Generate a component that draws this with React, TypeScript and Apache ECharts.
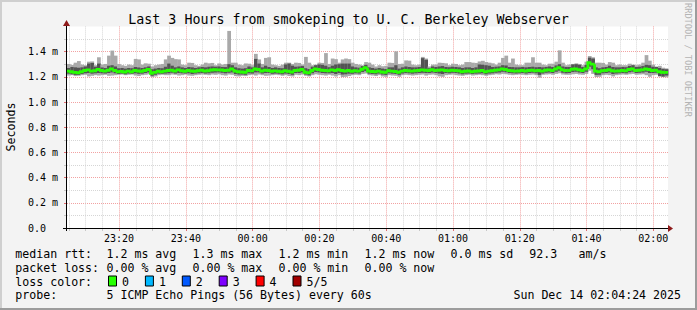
import React, { useEffect, useRef } from 'react';
import * as echarts from 'echarts';

// time in minutes after 23:00; first step starts 23:04:24, one step = 60 s
const firstMinute = 4.4;
const stepMinutes = 1;

// median round-trip time per step (ms)
const medianRtt = [
  1.245, 1.240, 1.235, 1.232, 1.240, 1.250, 1.255, 1.245, 1.248, 1.258,
  1.250, 1.245, 1.252, 1.262, 1.250, 1.240, 1.242, 1.238, 1.245, 1.240,
  1.250, 1.246, 1.244, 1.250, 1.258, 1.228, 1.235, 1.244, 1.240, 1.245,
  1.250, 1.252, 1.246, 1.255, 1.248, 1.244, 1.250, 1.246, 1.244, 1.248,
  1.252, 1.246, 1.248, 1.254, 1.256, 1.255, 1.254, 1.250, 1.252, 1.262,
  1.245, 1.240, 1.238, 1.236, 1.250, 1.248, 1.262, 1.258, 1.245, 1.252,
  1.250, 1.244, 1.247, 1.244, 1.240, 1.248, 1.244, 1.238, 1.250, 1.252,
  1.258, 1.236, 1.232, 1.250, 1.262, 1.258, 1.252, 1.250, 1.248, 1.255,
  1.250, 1.256, 1.250, 1.246, 1.250, 1.244, 1.248, 1.245, 1.260, 1.272,
  1.245, 1.242, 1.240, 1.245, 1.238, 1.236, 1.248, 1.245, 1.242, 1.236,
  1.245, 1.250, 1.248, 1.245, 1.248, 1.250, 1.255, 1.252, 1.250, 1.256,
  1.250, 1.252, 1.255, 1.250, 1.248, 1.252, 1.250, 1.248, 1.240, 1.244,
  1.246, 1.240, 1.244, 1.246, 1.250, 1.240, 1.245, 1.248, 1.252, 1.255,
  1.262, 1.258, 1.250, 1.248, 1.245, 1.246, 1.250, 1.246, 1.250, 1.252,
  1.248, 1.250, 1.245, 1.252, 1.255, 1.250, 1.262, 1.272, 1.255, 1.250,
  1.250, 1.260, 1.262, 1.256, 1.250, 1.262, 1.312, 1.300, 1.245, 1.240,
  1.248, 1.250, 1.256, 1.248, 1.245, 1.246, 1.250, 1.248, 1.258, 1.262,
  1.250, 1.252, 1.255, 1.262, 1.258, 1.250, 1.252, 1.240, 1.236, 1.235,
];

// highest ping of the 5 (ms)
const outerHi = [
  1.302, 1.294, 1.312, 1.325, 1.297, 1.292, 1.320, 1.322, 1.292, 1.355,
  1.297, 1.302, 1.368, 1.408, 1.368, 1.302, 1.292, 1.287, 1.297, 1.292,
  1.342, 1.338, 1.297, 1.307, 1.304, 1.282, 1.292, 1.297, 1.302, 1.338,
  1.368, 1.350, 1.340, 1.338, 1.297, 1.292, 1.312, 1.310, 1.292, 1.287,
  1.297, 1.312, 1.307, 1.310, 1.292, 1.306, 1.297, 1.302, 1.564, 1.312,
  1.312, 1.297, 1.292, 1.306, 1.304, 1.292, 1.382, 1.338, 1.302, 1.350,
  1.355, 1.297, 1.292, 1.287, 1.297, 1.312, 1.312, 1.302, 1.312, 1.310,
  1.297, 1.358, 1.312, 1.292, 1.297, 1.312, 1.310, 1.388, 1.302, 1.345,
  1.340, 1.312, 1.338, 1.345, 1.340, 1.312, 1.302, 1.297, 1.292, 1.317,
  1.312, 1.297, 1.282, 1.292, 1.284, 1.287, 1.312, 1.310, 1.402, 1.302,
  1.304, 1.330, 1.328, 1.297, 1.292, 1.297, 1.358, 1.345, 1.282, 1.297,
  1.297, 1.312, 1.310, 1.307, 1.292, 1.304, 1.302, 1.292, 1.297, 1.317,
  1.317, 1.312, 1.310, 1.322, 1.327, 1.317, 1.312, 1.307, 1.297, 1.312,
  1.350, 1.368, 1.312, 1.345, 1.297, 1.292, 1.292, 1.312, 1.312, 1.355,
  1.312, 1.312, 1.297, 1.292, 1.304, 1.304, 1.320, 1.410, 1.312, 1.292,
  1.297, 1.302, 1.307, 1.302, 1.292, 1.320, 1.365, 1.355, 1.312, 1.312,
  1.310, 1.297, 1.317, 1.312, 1.292, 1.297, 1.292, 1.292, 1.304, 1.297,
  1.292, 1.297, 1.312, 1.372, 1.328, 1.297, 1.282, 1.287, 1.272, 1.267,
];

// lowest ping of the 5 (ms)
const outerLo = [
  1.210, 1.213, 1.206, 1.208, 1.213, 1.216, 1.203, 1.208, 1.213, 1.210,
  1.213, 1.216, 1.208, 1.210, 1.213, 1.216, 1.218, 1.213, 1.216, 1.218,
  1.210, 1.206, 1.213, 1.216, 1.220, 1.198, 1.203, 1.213, 1.216, 1.213,
  1.213, 1.218, 1.216, 1.210, 1.213, 1.218, 1.210, 1.208, 1.213, 1.216,
  1.218, 1.216, 1.213, 1.218, 1.216, 1.220, 1.213, 1.210, 1.218, 1.216,
  1.206, 1.203, 1.208, 1.206, 1.213, 1.216, 1.210, 1.218, 1.213, 1.208,
  1.210, 1.213, 1.216, 1.213, 1.208, 1.213, 1.206, 1.203, 1.216, 1.213,
  1.218, 1.208, 1.203, 1.213, 1.220, 1.216, 1.213, 1.210, 1.216, 1.210,
  1.203, 1.213, 1.198, 1.200, 1.206, 1.213, 1.216, 1.213, 1.223, 1.226,
  1.213, 1.210, 1.206, 1.213, 1.203, 1.200, 1.213, 1.210, 1.208, 1.200,
  1.213, 1.216, 1.213, 1.210, 1.213, 1.216, 1.218, 1.210, 1.216, 1.218,
  1.213, 1.203, 1.200, 1.213, 1.216, 1.218, 1.213, 1.210, 1.208, 1.213,
  1.216, 1.210, 1.213, 1.216, 1.213, 1.208, 1.213, 1.216, 1.220, 1.218,
  1.223, 1.220, 1.216, 1.213, 1.216, 1.218, 1.216, 1.213, 1.216, 1.218,
  1.213, 1.193, 1.216, 1.218, 1.220, 1.216, 1.223, 1.228, 1.218, 1.216,
  1.216, 1.220, 1.223, 1.218, 1.216, 1.223, 1.248, 1.223, 1.198, 1.200,
  1.213, 1.216, 1.213, 1.203, 1.213, 1.216, 1.218, 1.216, 1.220, 1.223,
  1.216, 1.218, 1.220, 1.213, 1.200, 1.213, 1.216, 1.203, 1.198, 1.196,
];

// 4th ping (ms)
const innerHi = [
  1.270, 1.278, 1.275, 1.272, 1.275, 1.282, 1.305, 1.310, 1.280, 1.305,
  1.274, 1.270, 1.288, 1.292, 1.282, 1.268, 1.270, 1.265, 1.270, 1.268,
  1.278, 1.274, 1.270, 1.275, 1.282, 1.260, 1.265, 1.270, 1.268, 1.280,
  1.305, 1.288, 1.275, 1.282, 1.275, 1.270, 1.278, 1.275, 1.270, 1.275,
  1.278, 1.275, 1.280, 1.282, 1.280, 1.282, 1.278, 1.277, 1.300, 1.292,
  1.275, 1.268, 1.265, 1.268, 1.282, 1.275, 1.342, 1.305, 1.275, 1.288,
  1.278, 1.270, 1.275, 1.270, 1.268, 1.298, 1.305, 1.288, 1.280, 1.282,
  1.285, 1.268, 1.262, 1.280, 1.292, 1.298, 1.295, 1.288, 1.276, 1.288,
  1.298, 1.300, 1.305, 1.305, 1.305, 1.282, 1.275, 1.272, 1.285, 1.295,
  1.275, 1.270, 1.265, 1.270, 1.265, 1.262, 1.275, 1.275, 1.292, 1.265,
  1.275, 1.282, 1.278, 1.275, 1.275, 1.278, 1.348, 1.335, 1.268, 1.282,
  1.278, 1.282, 1.285, 1.278, 1.276, 1.280, 1.278, 1.275, 1.270, 1.275,
  1.275, 1.270, 1.275, 1.298, 1.296, 1.292, 1.288, 1.278, 1.280, 1.282,
  1.292, 1.290, 1.278, 1.277, 1.275, 1.275, 1.278, 1.275, 1.278, 1.280,
  1.276, 1.278, 1.275, 1.278, 1.282, 1.278, 1.290, 1.300, 1.282, 1.278,
  1.278, 1.298, 1.300, 1.295, 1.278, 1.295, 1.352, 1.345, 1.275, 1.268,
  1.275, 1.278, 1.288, 1.278, 1.275, 1.275, 1.278, 1.276, 1.286, 1.292,
  1.278, 1.280, 1.285, 1.295, 1.292, 1.280, 1.278, 1.270, 1.262, 1.260,
];

// 2nd ping (ms)
const innerLo = [
  1.225, 1.220, 1.215, 1.215, 1.222, 1.228, 1.230, 1.225, 1.228, 1.230,
  1.228, 1.226, 1.230, 1.235, 1.228, 1.222, 1.225, 1.220, 1.226, 1.224,
  1.228, 1.224, 1.225, 1.230, 1.235, 1.208, 1.216, 1.225, 1.224, 1.226,
  1.228, 1.232, 1.226, 1.230, 1.228, 1.226, 1.228, 1.222, 1.226, 1.228,
  1.230, 1.226, 1.228, 1.232, 1.234, 1.235, 1.232, 1.228, 1.232, 1.235,
  1.222, 1.218, 1.218, 1.216, 1.228, 1.226, 1.235, 1.235, 1.226, 1.230,
  1.230, 1.224, 1.226, 1.224, 1.220, 1.226, 1.222, 1.216, 1.230, 1.230,
  1.235, 1.218, 1.212, 1.228, 1.238, 1.235, 1.230, 1.228, 1.228, 1.230,
  1.222, 1.230, 1.218, 1.220, 1.225, 1.224, 1.228, 1.226, 1.238, 1.245,
  1.225, 1.222, 1.220, 1.226, 1.218, 1.215, 1.228, 1.225, 1.222, 1.216,
  1.226, 1.230, 1.228, 1.225, 1.228, 1.230, 1.232, 1.230, 1.230, 1.234,
  1.230, 1.226, 1.222, 1.230, 1.228, 1.232, 1.230, 1.226, 1.220, 1.225,
  1.226, 1.222, 1.225, 1.226, 1.228, 1.220, 1.226, 1.228, 1.232, 1.234,
  1.240, 1.236, 1.230, 1.228, 1.226, 1.228, 1.230, 1.226, 1.230, 1.232,
  1.228, 1.215, 1.226, 1.232, 1.234, 1.230, 1.240, 1.248, 1.232, 1.228,
  1.230, 1.238, 1.240, 1.234, 1.230, 1.240, 1.280, 1.260, 1.215, 1.216,
  1.228, 1.230, 1.234, 1.222, 1.226, 1.228, 1.230, 1.228, 1.236, 1.240,
  1.230, 1.232, 1.234, 1.240, 1.230, 1.230, 1.232, 1.205, 1.202, 1.210,
];

const yMajorValues = [0, 0.2, 0.4, 0.6, 0.8, 1.0, 1.2, 1.4];
const yMinorValues = [0.1, 0.3, 0.5, 0.7, 0.9, 1.1, 1.3, 1.5];
const xMajorValues = [20, 40, 60, 80, 100, 120, 140, 160, 180];
const xTickLabels = ['23:20', '23:40', '00:00', '00:20', '00:40', '01:00', '01:20', '01:40', '02:00'];
const xMinorValues = [5, 10, 15, 25, 30, 35, 45, 50, 55, 65, 70, 75, 85, 90, 95, 105, 110, 115, 125, 130, 135, 145, 150, 155, 165, 170, 175];

const titleText = 'Last 3 Hours from smokeping to U. C. Berkeley Webserver';
const rttStats = ['1.2 ms avg', '1.3 ms max', '1.2 ms min', '1.2 ms now', '0.0 ms sd'];
const rttExtra = ['92.3', 'am/s'];
const lossStats = ['0.00 % avg', '0.00 % max', '0.00 % min', '0.00 % now'];
const lossLabels = ['0', '1', '2', '3', '4', '5/5'];
const lossColors = ['#26ff00', '#00b8ff', '#0059ff', '#7e00ff', '#ff0000', '#a10000'];
const probeText = '5 ICMP Echo Pings (56 Bytes) every 60s';
const dateText = 'Sun Dec 14 02:04:24 2025';

const MONO = "'DejaVu Sans Mono', monospace";

function txt(x: number, y: number, text: string, size: number, extra: any = {}) {
  const align = extra.align || 'left';
  return {
    type: 'text',
    x,
    y,
    rotation: extra.rotation || 0,
    z: 100,
    silent: true,
    style: {
      text,
      fill: extra.fill || '#000000',
      fontFamily: MONO,
      fontSize: size,
      align,
      textAlign: align,
      verticalAlign: 'middle',
      textVerticalAlign: 'middle',
    },
  };
}

export default function App() {
  const ref = useRef<HTMLDivElement>(null);

  useEffect(() => {
    document.body.style.margin = '0';
    if (!ref.current) return;
    const chart = echarts.init(ref.current, null, { renderer: 'svg' });

    const smokeData = medianRtt.map((_, i) => [
      firstMinute + i * stepMinutes,
      firstMinute + (i + 1) * stepMinutes,
      outerLo[i],
      outerHi[i],
      innerLo[i],
      innerHi[i],
    ]);
    const medianData = medianRtt.map((m, i) => [
      firstMinute + i * stepMinutes,
      firstMinute + (i + 1) * stepMinutes,
      m,
      i > 0 ? medianRtt[i - 1] : m,
    ]);

    const graphic: any[] = [];
    // 3D frame
    graphic.push({ type: 'rect', z: 90, silent: true, shape: { x: 0, y: 0, width: 697, height: 2 }, style: { fill: '#cfcfcf' } });
    graphic.push({ type: 'rect', z: 90, silent: true, shape: { x: 0, y: 0, width: 2, height: 310 }, style: { fill: '#cfcfcf' } });
    graphic.push({ type: 'rect', z: 91, silent: true, shape: { x: 0, y: 308, width: 697, height: 2 }, style: { fill: '#9c9c9c' } });
    graphic.push({ type: 'rect', z: 91, silent: true, shape: { x: 695, y: 0, width: 2, height: 310 }, style: { fill: '#9c9c9c' } });
    // axes lines and arrows
    graphic.push({ type: 'line', z: 95, silent: true, shape: { x1: 63, y1: 228.5, x2: 671, y2: 228.5 }, style: { stroke: '#000000', lineWidth: 1 } });
    graphic.push({ type: 'line', z: 95, silent: true, shape: { x1: 66.5, y1: 231, x2: 66.5, y2: 22 }, style: { stroke: '#000000', lineWidth: 1 } });
    graphic.push({ type: 'polygon', z: 96, silent: true, shape: { points: [[668, 225], [673, 228.5], [668, 232]] }, style: { fill: '#8e1a1a' } });
    graphic.push({ type: 'polygon', z: 96, silent: true, shape: { points: [[63, 26], [66.5, 20], [70, 26]] }, style: { fill: '#8e1a1a' } });

    // title, axis name, watermark
    graphic.push(txt(348.5, 19.4, titleText, 13.3, { align: 'center' }));
    graphic.push(txt(11, 127, 'Seconds', 11.6, { align: 'center', rotation: Math.PI / 2 }));
    graphic.push(txt(687.5, 60, 'RRDTOOL / TOBI OETIKER', 8.6, { align: 'center', rotation: -Math.PI / 2, fill: '#b4b4b4' }));

    // legend
    const rowY = [254.3, 267.9, 281.6, 295.2];
    const colX = [106.5, 192.5, 278.5, 364.5, 450.5];
    graphic.push(txt(15.3, rowY[0], 'median rtt:', 11.6));
    rttStats.forEach((s, k) => graphic.push(txt(colX[k], rowY[0], s, 11.6)));
    graphic.push(txt(529.3, rowY[0], rttExtra[0], 11.6));
    graphic.push(txt(578.5, rowY[0], rttExtra[1], 11.6));
    graphic.push(txt(15.3, rowY[1], 'packet loss:', 11.6));
    lossStats.forEach((s, k) => graphic.push(txt(colX[k], rowY[1], s, 11.6)));
    graphic.push(txt(15.3, rowY[2], 'loss color:', 11.6));
    lossLabels.forEach((s, k) => {
      const bx = 108.5 + k * 36.9;
      graphic.push({
        type: 'rect', z: 100, silent: true,
        shape: { x: bx, y: 276, width: 8, height: 10 },
        style: { fill: lossColors[k], stroke: '#000000', lineWidth: 1 },
      });
      graphic.push(txt(bx + 13.5, rowY[2], s, 11.6));
    });
    graphic.push(txt(15.3, rowY[3], 'probe:', 11.6));
    graphic.push(txt(106.5, rowY[3], probeText, 11.6));
    graphic.push(txt(681, rowY[3], dateText, 11.6, { align: 'right' }));

    const option: any = {
      animation: false,
      backgroundColor: '#f3f3f3',
      grid: {
        left: 67, top: 26.4, width: 601, height: 201.6,
        show: true, backgroundColor: '#ffffff', borderWidth: 0,
      },
      xAxis: [
        {
          type: 'value', min: 4.4, max: 184.4, position: 'bottom',
          axisLine: { show: false },
          axisTick: { show: true, customValues: xMajorValues, length: 3, lineStyle: { color: '#e07070', width: 1 } },
          axisLabel: {
            show: true, customValues: xMajorValues, margin: 5, color: '#000000',
            fontFamily: MONO, fontSize: 10,
            formatter: (v: number) => xTickLabels[xMajorValues.indexOf(Math.round(v))] || '',
          },
          splitLine: { show: true, lineStyle: { color: '#f2a2a2', type: [1, 1], width: 1 } },
        },
        {
          type: 'value', min: 4.4, max: 184.4, position: 'bottom',
          axisLine: { show: false },
          axisTick: { show: true, customValues: xMinorValues, length: 3, lineStyle: { color: '#c8c8c8', width: 1 } },
          axisLabel: { show: false },
          splitLine: { show: true, lineStyle: { color: '#d6d6d6', type: [1, 1], width: 1 } },
        },
      ],
      yAxis: [
        {
          type: 'value', min: 0, max: 1.6, position: 'left',
          axisLine: { show: false },
          axisTick: { show: true, customValues: yMajorValues, length: 3, lineStyle: { color: '#e07070', width: 1 } },
          axisLabel: {
            show: true, customValues: yMajorValues, margin: 9, color: '#000000',
            fontFamily: MONO, fontSize: 10,
            formatter: (v: number) => (Math.abs(v) < 1e-9 ? '0.0\u00a0\u00a0' : v.toFixed(1) + ' m'),
          },
          splitLine: { show: true, lineStyle: { color: '#f2a2a2', type: [1, 1], width: 1 } },
        },
        {
          type: 'value', min: 0, max: 1.6, position: 'left',
          axisLine: { show: false },
          axisTick: { show: true, customValues: yMinorValues, length: 3, lineStyle: { color: '#c8c8c8', width: 1 } },
          axisLabel: { show: false },
          splitLine: { show: true, lineStyle: { color: '#d6d6d6', type: [1, 1], width: 1 } },
        },
      ],
      series: [
        {
          type: 'custom',
          name: 'smoke',
          xAxisIndex: 0,
          yAxisIndex: 0,
          z: 5,
          silent: true,
          data: smokeData,
          encode: { x: [0, 1], y: [2, 3, 4, 5] },
          renderItem: (_params: any, api: any) => {
            const t0 = api.value(0);
            const t1 = api.value(1);
            const oL = api.coord([t0, api.value(2)]);
            const oH = api.coord([t1, api.value(3)]);
            const iL = api.coord([t0, api.value(4)]);
            const iH = api.coord([t1, api.value(5)]);
            return {
              type: 'group',
              children: [
                {
                  type: 'rect',
                  shape: { x: oL[0], y: oH[1], width: oH[0] - oL[0] + 0.4, height: oL[1] - oH[1] },
                  style: { fill: '#a9a9a9' },
                },
                {
                  type: 'rect',
                  shape: { x: iL[0], y: iH[1], width: iH[0] - iL[0] + 0.4, height: iL[1] - iH[1] },
                  style: { fill: '#535353' },
                },
              ],
            };
          },
        },
        {
          type: 'custom',
          name: 'median',
          xAxisIndex: 0,
          yAxisIndex: 0,
          z: 6,
          silent: true,
          data: medianData,
          encode: { x: [0, 1], y: [2, 3] },
          renderItem: (_params: any, api: any) => {
            const t0 = api.value(0);
            const t1 = api.value(1);
            const a = api.coord([t0, api.value(3)]);
            const b = api.coord([t0, api.value(2)]);
            const c = api.coord([t1, api.value(2)]);
            return {
              type: 'polyline',
              shape: { points: [a, b, c] },
              style: { stroke: '#26ff00', lineWidth: 2.8, fill: null, lineJoin: 'miter', lineCap: 'butt' },
            };
          },
        },
      ],
      graphic,
    };

    chart.setOption(option);
    return () => chart.dispose();
  }, []);

  return (
    <div
      ref={ref}
      style={{ position: 'absolute', left: 0, top: 0, width: 697, height: 310 }}
    />
  );
}
